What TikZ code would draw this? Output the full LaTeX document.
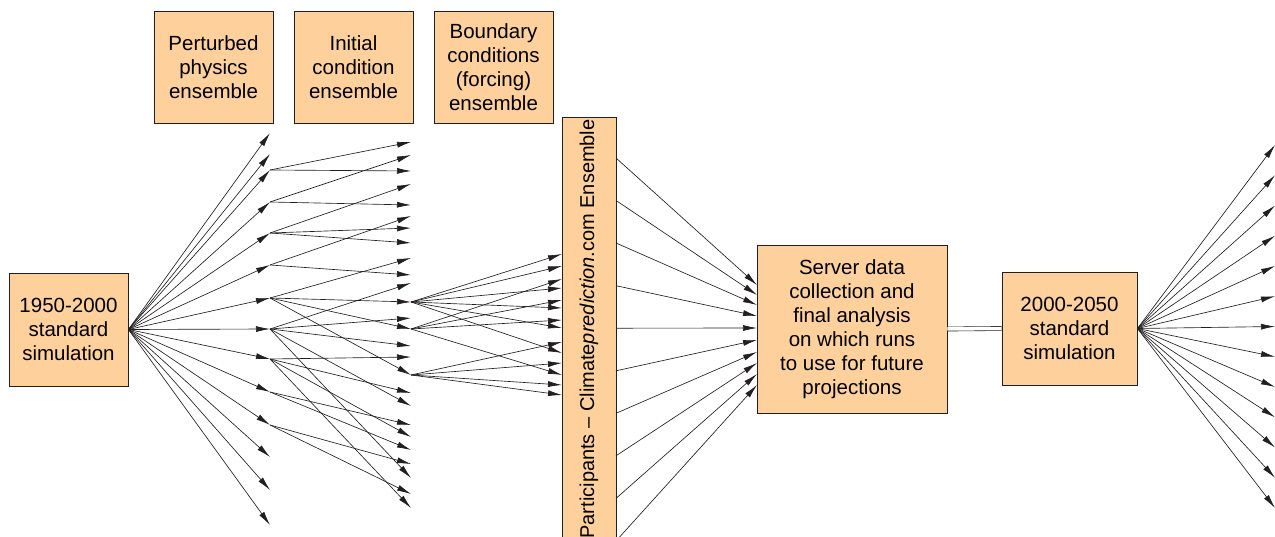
\documentclass[tikz,border=0pt]{standalone}
\usepackage{fontspec}
\setmainfont{Liberation Sans}
\usetikzlibrary{arrows.meta}
\definecolor{boxfill}{RGB}{253,208,156}
\definecolor{inkline}{RGB}{35,31,32}

\begin{document}
\begin{tikzpicture}[x=1pt,y=-1pt,
                    box/.style={draw=inkline,line width=0.9pt,fill=boxfill,align=center,inner sep=0pt,
                                font=\fontsize{20.5}{24}\selectfont},
                    run/.style={draw=inkline,line width=0.65pt,-{Latex[length=14pt,width=6pt]}},
                    link/.style={draw=inkline,line width=0.6pt}]
                    \useasboundingbox (0,0) rectangle (1275,537);
                    \node[box,minimum width=119pt,minimum height=113pt] (hist) at (68.5,329.5)
                        {1950-2000\\standard\\simulation};
                    \node[box,minimum width=119pt,minimum height=112pt] (ppe) at (213.5,67)
                        {Perturbed\\physics\\ensemble};
                    \node[box,minimum width=119pt,minimum height=112pt] (ice) at (353.5,67)
                        {Initial\\condition\\ensemble};
                    \node[box,minimum width=119pt,minimum height=112pt] (bce) at (493.5,67)
                        {Boundary\\conditions\\(forcing)\\ensemble};
                    \node[box,minimum width=54pt,minimum height=445pt,anchor=north] (cpdn) at (589,117) {};
                    \node[rotate=90,inner sep=0pt,font=\fontsize{20}{24}\selectfont] (cpdnlabel) at (589,329)
                        {Participants -- Climate\textit{prediction}.com Ensemble};
                    \node[box,minimum width=190pt,minimum height=168pt] (server) at (852,329)
                        {Server data\\collection and\\final analysis\\on which runs\\to use for future\\projections};
                    \node[box,minimum width=135pt,minimum height=113pt] (future) at (1069.5,328.5)
                        {2000-2050\\standard\\simulation};
                    \foreach \y [count=\i] in {133,154,170,202,233,265,298,329,359,392,425,457,490,525}
                        \coordinate (a\i) at (270,\y);
                    \foreach \y [count=\i] in {142,155,171,184,205,216,228,243,258,275,283,302,318,
                                               329,346,357,375,393,406,425,437,450,464,478,494,508}
                        \coordinate (b\i) at (411,\y);
                    \foreach \y [count=\i] in {254,266,279,288,300,308,320,328,342,353,363,375,385,395}
                        \coordinate (c\i) at (562,\y);
                    \foreach \ya/\yb [count=\i] in {158/285,200.5/295,243/305,285.7/316,328.2/328,
                                                    370.8/340,413.3/352,455.8/363,498.4/374,541/385}
                        {
                            \coordinate (d\i) at (616,\ya);
                            \coordinate (e\i) at (757,\yb);
                        }
                    \foreach \i in {1,...,13}
                        \coordinate (f\i) at (1275,{145+30.25*(\i-1)});
                    \foreach \i in {1,...,14}
                        \draw[run] (hist.east) -- (a\i);
                    \foreach \s/\t in {3/1,3/3,4/2,4/5,5/4,5/7,5/8,6/6,6/10,
                                       7/9,7/12,7/14,7/17,8/11,8/13,8/15,8/19,8/24,
                                       9/16,9/18,9/21,9/26,10/20,10/22,11/23,11/25}
                        \draw[run] (a\s) -- (b\t);
                    \foreach \s/\t in {12/1,12/2,12/4,12/6,12/8,12/10,
                                       14/3,14/5,14/7,14/12,
                                       17/9,17/11,17/13,17/14}
                        \draw[run] (b\s) -- (c\t);
                    \foreach \i in {1,...,10}
                        \draw[run] (d\i) -- (e\i);
                    \draw[link,double=white,double distance=3.5pt] (server.east) -- (future.west);
                    \foreach \i in {1,...,13}
                        \draw[run] (future.east) -- (f\i);
                \end{tikzpicture}
\end{document}
